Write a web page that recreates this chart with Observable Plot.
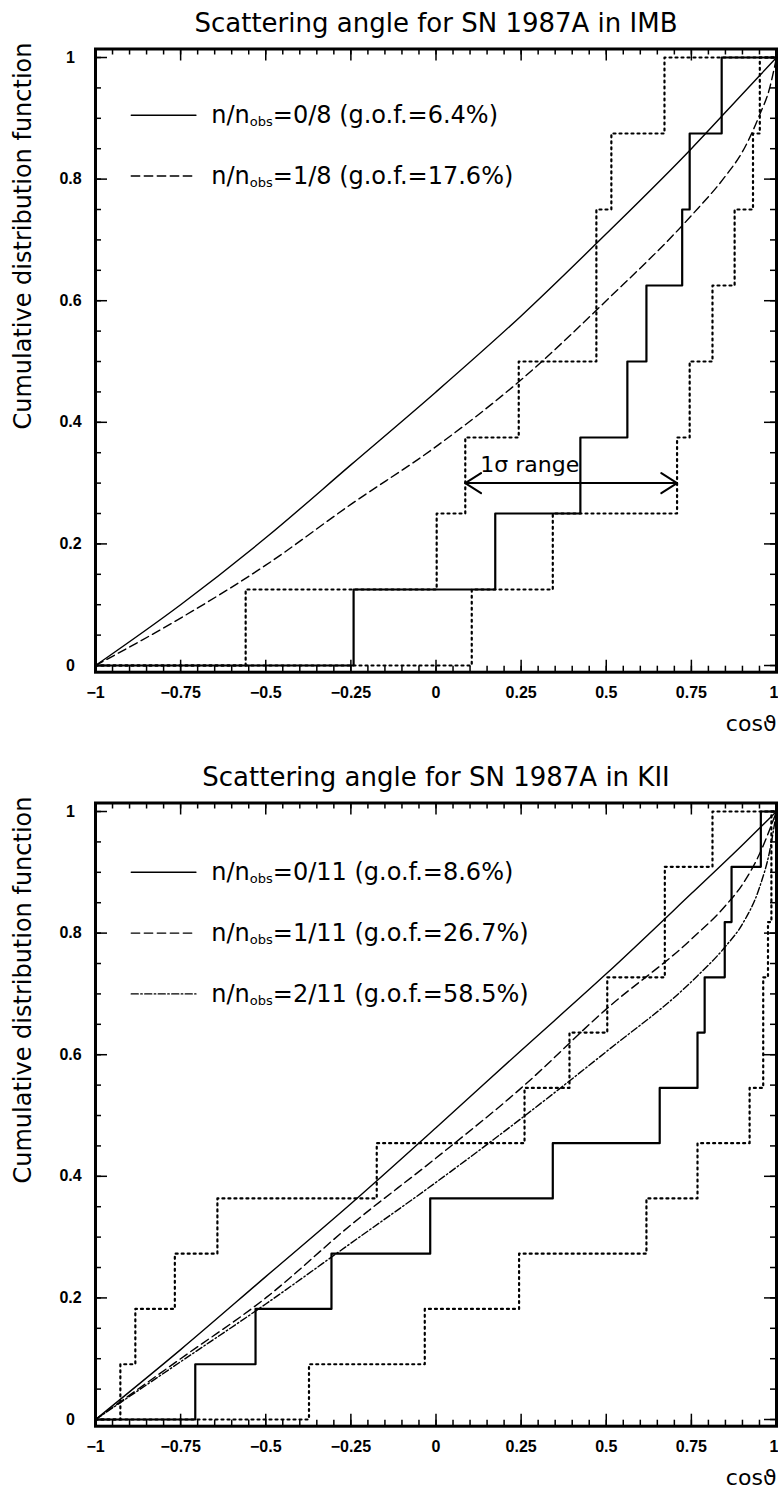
<!DOCTYPE html>
<html>
<head>
<meta charset="utf-8">
<script src="https://cdn.jsdelivr.net/npm/d3@7"></script>
<script src="https://cdn.jsdelivr.net/npm/@observablehq/plot@0.6"></script>
<style>
  body { margin: 0; background: #fff; }
  #charts svg { display: block; }
</style>
</head>
<body>
<div id="charts"></div>
<script>
// ---------- IMB (8 events) ----------
const imbTitle = "Scattering angle for SN 1987A in IMB";
const imbEvents = [-0.242, 0.174, 0.424, 0.562, 0.618, 0.723, 0.745, 0.839];
const imbUpper  = [-0.559, 0.002, 0.086, 0.243, 0.471, 0.471, 0.515, 0.671];
const imbLower  = [0.105, 0.343, 0.708, 0.745, 0.812, 0.877, 0.931, 0.951];
const imbGrid0  = [-1, -0.75, -0.5, -0.25, 0, 0.25, 0.5, 0.75, 0.9, 1];
const imbFit0   = [0, 0.10, 0.21, 0.33, 0.45, 0.575, 0.71, 0.85, 0.94, 1];
const imbGrid1  = [-1, -0.75, -0.5, -0.25, 0, 0.25, 0.5, 0.75, 0.85, 0.9, 0.95, 0.98, 1];
const imbFit1   = [0, 0.078, 0.165, 0.265, 0.36, 0.47, 0.60, 0.74, 0.805, 0.845, 0.905, 0.95, 1];
const imbLegend = ["n/n_obs=0/8 (g.o.f.=6.4%)", "n/n_obs=1/8 (g.o.f.=17.6%)"];
const imbLegendY = [0.905, 0.805];

// ---------- KII (11 events) ----------
const kiiTitle = "Scattering angle for SN 1987A in KII";
const kiiEvents = [-0.707, -0.530, -0.307, -0.017, 0.343, 0.657, 0.768, 0.789, 0.848, 0.868, 0.954];
const kiiUpper  = [-0.927, -0.883, -0.767, -0.642, -0.174, 0.26, 0.392, 0.503, 0.672, 0.672, 0.812];
const kiiLower  = [-0.373, -0.033, 0.244, 0.618, 0.768, 0.921, 0.961, 0.961, 0.975, 0.985, 0.985];
const kiiGrid0  = [-1, -0.75, -0.5, -0.25, 0, 0.25, 0.5, 0.75, 0.9, 1];
const kiiFit0   = [0, 0.115, 0.235, 0.355, 0.48, 0.607, 0.733, 0.865, 0.945, 1];
const kiiGrid1  = [-1, -0.75, -0.5, -0.25, 0, 0.25, 0.5, 0.75, 0.85, 0.9, 0.95, 1];
const kiiFit1   = [0, 0.10, 0.20, 0.32, 0.43, 0.545, 0.675, 0.79, 0.845, 0.88, 0.93, 1];
const kiiGrid2  = [-1, -0.75, -0.5, -0.25, 0, 0.25, 0.5, 0.75, 0.85, 0.9, 0.95, 0.98, 1];
const kiiFit2   = [0, 0.095, 0.19, 0.29, 0.39, 0.495, 0.605, 0.72, 0.778, 0.815, 0.875, 0.935, 1];
const kiiLegend = ["n/n_obs=0/11 (g.o.f.=8.6%)", "n/n_obs=1/11 (g.o.f.=26.7%)", "n/n_obs=2/11 (g.o.f.=58.5%)"];
const kiiLegendY = [0.9, 0.8, 0.7];

// ---------- axes ----------
const xMajorTicks = [-1, -0.75, -0.5, -0.25, 0, 0.25, 0.5, 0.75, 1];
const yMajorTicks = [0, 0.2, 0.4, 0.6, 0.8, 1];
const xMinorTicks = d3.range(0, 41).map(i => +(-1 + i * 0.05).toFixed(2));
const yMinorTicks = d3.range(0, 21).map(i => +(i * 0.05).toFixed(2));
const xLabel = "cos\u03D1";
const yLabel = "Cumulative distribution function";
const sigmaText = "1\u03C3 range";
const sigmaLevel = 0.3;

const fontMain = "'DejaVu Sans', sans-serif";
const fontTicks = "'Liberation Sans', Arial, sans-serif";
const fitStyles = [
  {strokeDasharray: null},
  {strokeDasharray: "8.5,4.5"},
  {strokeDasharray: "7,2.5,1.5,2.5"}
];
const tickFmt = d => (d < 0 ? "\u2212" + String(-d) : String(d));

// Empirical cumulative distribution as step points from (-1,0) to (1,1)
function cdfSteps(events) {
  const n = events.length;
  const pts = [[-1, 0]];
  events.forEach((x, i) => pts.push([x, (i + 1) / n]));
  pts.push([1, 1]);
  return pts;
}

// x position where a step CDF first reaches a given level
function crossing(events, level) {
  const n = events.length;
  return events[Math.ceil(level * n) - 1];
}

function panel({title, events, upper, lower, fits, legend, legendY, height, sigma}) {
  const W = 778, mL = 95, mR = 2, mT = 48.5, frameBottom = 671.7;
  const mB = height - frameBottom;
  const fw = W - mL - mR, fh = frameBottom - mT;
  const tickStroke = 1.5, shortT = 6, longT = 12;
  const xLabelStyle = {tickSize: 0, tickPadding: 14, tickFormat: tickFmt,
    fontSize: 16, fontWeight: "bold", fontFamily: fontTicks, label: null};

  const marks = [
    // inward ticks on all four sides
    Plot.tickX(xMinorTicks, {insetTop: fh - shortT, strokeWidth: tickStroke}),
    Plot.tickX(xMajorTicks, {insetTop: fh - longT, strokeWidth: tickStroke}),
    Plot.tickX(xMinorTicks, {insetBottom: fh - shortT, strokeWidth: tickStroke}),
    Plot.tickX(xMajorTicks, {insetBottom: fh - longT, strokeWidth: tickStroke}),
    Plot.tickY(yMinorTicks, {insetRight: fw - shortT, strokeWidth: tickStroke}),
    Plot.tickY(yMajorTicks, {insetRight: fw - longT, strokeWidth: tickStroke}),
    Plot.tickY(yMinorTicks, {insetLeft: fw - shortT, strokeWidth: tickStroke}),
    Plot.tickY(yMajorTicks, {insetLeft: fw - longT, strokeWidth: tickStroke}),
    // tick labels; the last one hugs the right edge
    Plot.axisX({ticks: xMajorTicks.slice(0, -1), ...xLabelStyle}),
    Plot.axisX({ticks: xMajorTicks.slice(-1), ...xLabelStyle, textAnchor: "end", dx: 2}),
    Plot.axisY({ticks: yMajorTicks, tickSize: 0, tickPadding: 25, tickFormat: tickFmt,
      textAnchor: "middle", fontSize: 16, fontWeight: "bold", fontFamily: fontTicks, label: null}),

    // 1-sigma band edges (dotted) and the observed distribution (solid steps)
    Plot.line(cdfSteps(upper), {curve: "step-after", strokeWidth: 2.2, strokeDasharray: "2,4"}),
    Plot.line(cdfSteps(lower), {curve: "step-after", strokeWidth: 2.2, strokeDasharray: "2,4"}),
    Plot.line(cdfSteps(events), {curve: "step-after", strokeWidth: 2.2}),

    // model curves
    ...fits.map(([grid, fit], i) =>
      Plot.line(d3.zip(grid, fit), {curve: "monotone-x", strokeWidth: 1.4, ...fitStyles[i]})),

    // legend
    ...legend.flatMap((label, i) => [
      Plot.line([[-0.895, legendY[i]], [-0.705, legendY[i]]], {strokeWidth: 1.4, ...fitStyles[i]}),
      Plot.text([label], {x: -0.66, y: legendY[i], text: d => d, textAnchor: "start",
        lineAnchor: "middle", fontSize: 24, fontFamily: fontMain})
    ]),

    Plot.frame({strokeWidth: 3}),

    // titles and axis names
    Plot.text([title], {frameAnchor: "top", text: d => d, lineAnchor: "bottom", dy: -17.5,
      fontSize: 26, fontFamily: fontMain}),
    Plot.text([xLabel], {frameAnchor: "bottom-right", text: d => d, textAnchor: "end",
      lineAnchor: "bottom", dy: 58.3, fontSize: 22, fontFamily: fontMain}),
    Plot.text([yLabel], {frameAnchor: "top-left", text: d => d, rotate: -90, textAnchor: "end",
      lineAnchor: "bottom", dx: -65, dy: -6.5, fontSize: 24, fontFamily: fontMain})
  ];

  if (sigma) {
    const a = crossing(upper, sigmaLevel), b = crossing(lower, sigmaLevel);
    marks.push(
      Plot.arrow([{x1: a, x2: b}, {x1: b, x2: a}], {x1: "x1", x2: "x2", y1: sigmaLevel, y2: sigmaLevel,
        strokeWidth: 2, headLength: 14, headAngle: 65}),
      Plot.text([sigmaText], {x: a, y: sigmaLevel, text: d => d, textAnchor: "start",
        lineAnchor: "bottom", dx: 15, dy: -11, fontSize: 22, fontFamily: fontMain})
    );
  }

  const svg = Plot.plot({
    width: W, height,
    marginLeft: mL, marginRight: mR, marginTop: mT, marginBottom: mB,
    x: {domain: [-1, 1]},
    y: {domain: [-0.011, 1.014]},
    style: {background: "#fff", color: "#000", fontFamily: fontMain},
    marks
  });

  // subscript "obs" in the legend entries
  const ns = "http://www.w3.org/2000/svg";
  svg.querySelectorAll("text").forEach(t => {
    const s = t.textContent;
    const i = s.indexOf("_obs");
    if (i < 0) return;
    t.textContent = "";
    const a = document.createElementNS(ns, "tspan");
    a.textContent = s.slice(0, i);
    const b = document.createElementNS(ns, "tspan");
    b.textContent = "obs";
    b.setAttribute("font-size", "13");
    b.setAttribute("dy", "3");
    const c = document.createElementNS(ns, "tspan");
    c.textContent = s.slice(i + 4);
    c.setAttribute("dy", "-3");
    t.append(a, b, c);
  });
  return svg;
}

const root = document.getElementById("charts");
root.append(panel({
  title: imbTitle, events: imbEvents, upper: imbUpper, lower: imbLower,
  fits: [[imbGrid0, imbFit0], [imbGrid1, imbFit1]],
  legend: imbLegend, legendY: imbLegendY, height: 754, sigma: true
}));
root.append(panel({
  title: kiiTitle, events: kiiEvents, upper: kiiUpper, lower: kiiLower,
  fits: [[kiiGrid0, kiiFit0], [kiiGrid1, kiiFit1], [kiiGrid2, kiiFit2]],
  legend: kiiLegend, legendY: kiiLegendY, height: 734, sigma: false
}));
</script>
</body>
</html>
